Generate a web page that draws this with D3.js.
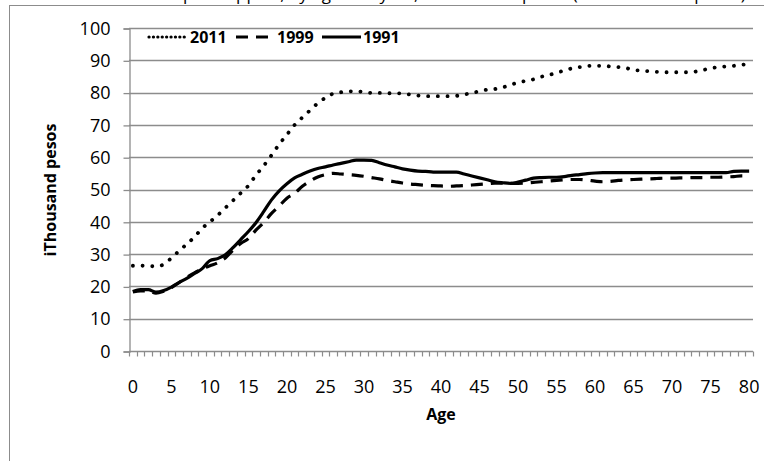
<!DOCTYPE html>
<html>
<head>
<meta charset="utf-8">
<script src="https://cdn.jsdelivr.net/npm/d3@7/dist/d3.min.js"></script>
<style>
body { margin: 0; background: #fff; }
svg { display: block; font-family: "Open Sans", sans-serif; }
</style>
</head>
<body>
<svg id="chart" width="764" height="461"></svg>
<script>
var width = 764, height = 461;

// ages 0..80
var ages = d3.range(0, 81);
var xTickLabels = d3.range(0, 81, 5);
var yTicks = [0, 10, 20, 30, 40, 50, 60, 70, 80, 90, 100];

var values2011 = [26.4, 26.4, 26.3, 26.2, 26.8, 28.8, 31.0, 33.1, 35.3, 38.0,
    40.0, 42.0, 44.3, 46.6, 48.9, 51.2, 54.5, 57.4, 60.6, 64.0,
    67.0, 70.0, 72.3, 74.5, 76.7, 78.4, 79.7, 80.1, 80.4, 80.4,
    80.2, 79.9, 79.9, 79.8, 79.8, 79.7, 79.4, 79.1, 78.9, 78.9,
    78.9, 78.9, 79.0, 79.4, 79.9, 80.4, 80.9, 81.1, 81.6, 82.4,
    83.1, 83.6, 84.1, 84.9, 85.4, 86.2, 86.8, 87.5, 87.9, 88.2,
    88.3, 88.3, 88.1, 87.9, 87.6, 87.0, 86.8, 86.6, 86.4, 86.3,
    86.3, 86.3, 86.3, 86.5, 87.0, 87.5, 87.9, 88.1, 88.3, 88.6, 88.9];

var values1999 = [18.3, 18.6, 18.6, 17.9, 18.5, 19.6, 21.2, 22.8, 24.2, 25.4,
    26.4, 27.3, 28.8, 31.2, 33.3, 34.8, 37.5, 39.8, 42.6, 44.9,
    47.3, 48.8, 51.0, 52.6, 53.9, 54.6, 55.0, 54.8, 54.6, 54.4,
    54.1, 53.7, 53.3, 52.8, 52.4, 52.0, 51.7, 51.5, 51.3, 51.2,
    51.1, 51.0, 51.1, 51.2, 51.4, 51.6, 51.8, 52.0, 52.0, 51.9,
    51.9, 52.0, 52.2, 52.4, 52.6, 52.8, 53.0, 53.1, 53.1, 52.9,
    52.6, 52.4, 52.5, 52.8, 53.0, 53.1, 53.2, 53.3, 53.4, 53.5,
    53.5, 53.6, 53.6, 53.7, 53.7, 53.8, 53.8, 53.9, 54.0, 54.2, 54.2];

var values1991 = [18.4, 19.0, 19.0, 18.2, 18.7, 19.8, 21.2, 22.5, 24.0, 25.5,
    28.0, 28.6, 29.8, 32.0, 34.5, 37.0, 39.8, 43.2, 46.8, 49.6,
    51.8, 53.6, 54.7, 55.7, 56.5, 57.0, 57.6, 58.1, 58.6, 59.1,
    59.1, 59.0, 58.3, 57.6, 57.0, 56.4, 56.0, 55.7, 55.6, 55.4,
    55.4, 55.4, 55.4, 54.8, 54.2, 53.6, 53.0, 52.4, 52.1, 51.9,
    52.3, 52.9, 53.5, 53.7, 53.8, 53.8, 54.0, 54.4, 54.6, 54.9,
    55.1, 55.2, 55.2, 55.2, 55.2, 55.2, 55.2, 55.2, 55.2, 55.2,
    55.2, 55.2, 55.2, 55.2, 55.2, 55.2, 55.2, 55.2, 55.6, 55.7, 55.7];

var seriesNames = ["2011", "1999", "1991"];
var series = [values2011, values1999, values1991];
var dashes = ["0.1 9.6", "12 8", null];

var svg = d3.select("#chart");

var plot = {left: 129, right: 753, top: 28, bottom: 351};

// chart frame (cropped at right and bottom)
svg.append("rect")
    .attr("x", 9.5).attr("y", 5.5)
    .attr("width", 800).attr("height", 500)
    .attr("fill", "none").attr("stroke", "#8c8c8c").attr("stroke-width", 1);

// title, mostly cut off above the frame
svg.append("text")
    .attr("x", 440).attr("y", 0)
    .attr("text-anchor", "middle")
    .attr("font-size", 17)
    .attr("fill", "#000")
    .text("Per capita support, by age and year, in thousand pesos (constant 2011 pesos)");

var x = d3.scaleBand()
    .domain(ages)
    .range([plot.left, plot.right]);

var y = d3.scaleLinear()
    .domain([0, 100])
    .range([plot.bottom, plot.top]);

// gridlines
svg.append("g")
    .selectAll("line")
    .data(yTicks.filter(function(d){ return d > 0; }))
    .enter().append("line")
    .attr("x1", plot.left).attr("x2", plot.right)
    .attr("y1", function(d){ return Math.round(y(d)) + 0.5; })
    .attr("y2", function(d){ return Math.round(y(d)) + 0.5; })
    .attr("stroke", "#8c8c8c").attr("stroke-width", 1.3);

// y axis
var yAxis = svg.append("g")
    .attr("transform", "translate(" + (plot.left + 0.5) + ",0.5)")
    .call(d3.axisLeft(y).tickValues(yTicks).tickSize(6).tickPadding(13));
yAxis.select(".domain").attr("stroke", "#8c8c8c").attr("stroke-width", 1.3);
yAxis.selectAll(".tick line").attr("stroke", "#8c8c8c").attr("stroke-width", 1.3);
yAxis.selectAll("text").attr("font-size", 18).attr("font-family", "Open Sans").attr("fill", "#000");

// x axis: ticks between categories, labels every 5
var xAxisG = svg.append("g").attr("transform", "translate(0," + (plot.bottom + 0.5) + ")");
xAxisG.append("line")
    .attr("x1", plot.left).attr("x2", plot.right)
    .attr("stroke", "#8c8c8c").attr("stroke-width", 1.3);
xAxisG.selectAll("line.tk")
    .data(ages.concat([81]))
    .enter().append("line")
    .attr("class", "tk")
    .attr("x1", function(d){ return Math.round(plot.left + d * x.step()) + 0.5; })
    .attr("x2", function(d){ return Math.round(plot.left + d * x.step()) + 0.5; })
    .attr("y1", 0).attr("y2", 5)
    .attr("stroke", "#8c8c8c").attr("stroke-width", 1.2);
xAxisG.selectAll("text")
    .data(xTickLabels)
    .enter().append("text")
    .attr("x", function(d){ return x(d) + x.bandwidth() / 2; })
    .attr("y", 41)
    .attr("text-anchor", "middle")
    .attr("font-size", 18)
    .text(function(d){ return d; });

// axis titles
svg.append("text")
    .attr("x", 441).attr("y", 420)
    .attr("text-anchor", "middle")
    .attr("font-size", 16).attr("font-weight", "bold")
    .text("Age");

svg.append("text")
    .attr("transform", "translate(56,190) rotate(-90)")
    .attr("text-anchor", "middle")
    .attr("font-size", 16).attr("font-weight", "bold")
    .text("iThousand pesos");

// lines
var line = d3.line()
    .x(function(d, i){ return x(ages[i]) + x.bandwidth() / 2; })
    .y(function(d){ return y(d); })
    .curve(d3.curveMonotoneX);

series.forEach(function(s, k) {
    svg.append("path")
        .datum(s)
        .attr("d", line)
        .attr("fill", "none")
        .attr("stroke", "#000")
        .attr("stroke-width", k === 0 ? 3.8 : 3.2)
        .attr("stroke-linecap", k === 0 ? "round" : "butt")
        .attr("stroke-linejoin", "round")
        .attr("stroke-dasharray", dashes[k]);
});

// legend
var legendX = [148, 236, 322];
var legend = svg.append("g");
seriesNames.forEach(function(name, k) {
    legend.append("line")
        .attr("x1", legendX[k] + (k === 0 ? 1 : 0)).attr("x2", legendX[k] + 39)
        .attr("y1", 37).attr("y2", 37)
        .attr("stroke", "#000")
        .attr("stroke-width", k === 0 ? 3.2 : 3.2)
        .attr("stroke-linecap", k === 0 ? "round" : "butt")
        .attr("stroke-dasharray", k === 0 ? "0.1 4.3" : dashes[k]);
    legend.append("text")
        .attr("x", legendX[k] + (k === 0 ? 42 : 41)).attr("y", 43)
        .attr("font-size", 16).attr("font-weight", "bold")
        .text(name);
});
</script>
</body>
</html>
